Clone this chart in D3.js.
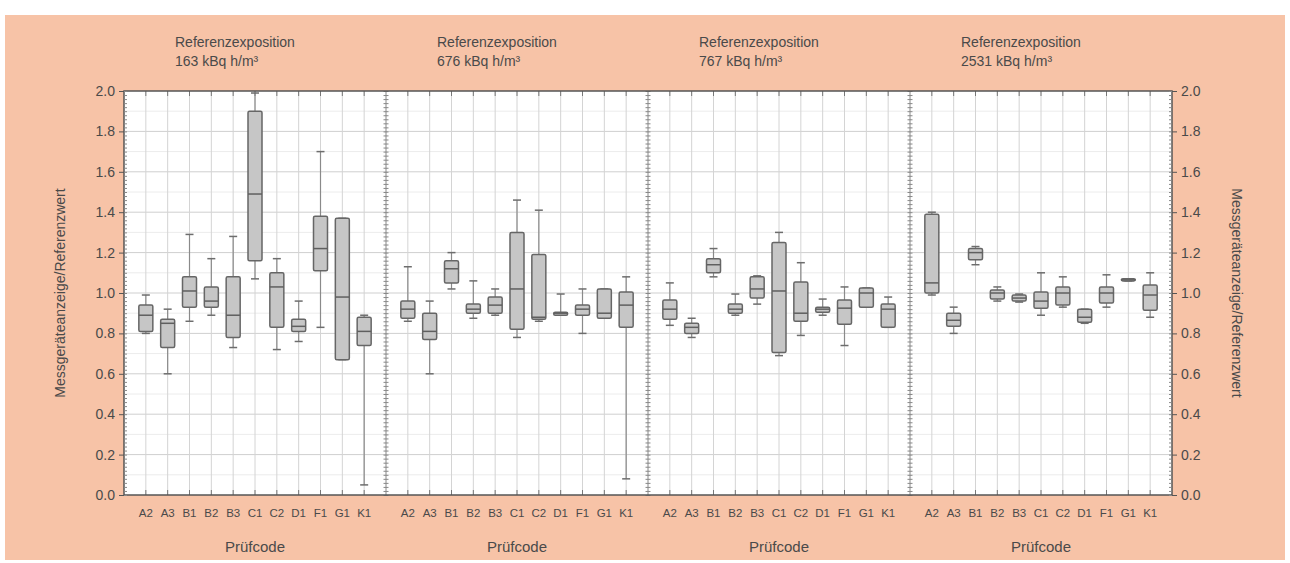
<!DOCTYPE html>
<html>
<head>
<meta charset="utf-8">
<script src="https://cdn.jsdelivr.net/npm/d3@7"></script>
<style>
  body { margin: 0; background: #fff; }
  svg { display: block; font-family: "Liberation Sans", Arial, sans-serif; }
</style>
</head>
<body>
<svg id="chart" width="1290" height="563"></svg>
<script>
// codes on the x axis (same in every panel)
const categories = ["A2", "A3", "B1", "B2", "B3", "C1", "C2", "D1", "F1", "G1", "K1"];
const exposures = ["163 kBq h/m³", "676 kBq h/m³", "767 kBq h/m³", "2531 kBq h/m³"];
const yTicks = [0, 0.2, 0.4, 0.6, 0.8, 1.0, 1.2, 1.4, 1.6, 1.8, 2.0];

// [min, q1, median, q3, max] per code
const boxes163 = [
    [0.80, 0.81, 0.89, 0.94, 0.99], [0.60, 0.73, 0.85, 0.87, 0.92], [0.86, 0.93, 1.01, 1.08, 1.29],
    [0.89, 0.93, 0.96, 1.03, 1.17], [0.73, 0.78, 0.89, 1.08, 1.28], [1.07, 1.16, 1.49, 1.90, 1.99],
    [0.72, 0.83, 1.03, 1.10, 1.17], [0.76, 0.81, 0.835, 0.87, 0.96], [0.83, 1.11, 1.22, 1.38, 1.70],
    [0.67, 0.67, 0.98, 1.37, 1.37], [0.05, 0.74, 0.81, 0.88, 0.89]
];
const boxes676 = [
    [0.86, 0.875, 0.92, 0.96, 1.13], [0.60, 0.77, 0.81, 0.90, 0.96], [1.02, 1.05, 1.12, 1.16, 1.20],
    [0.875, 0.90, 0.92, 0.945, 1.06], [0.89, 0.90, 0.94, 0.98, 1.02], [0.78, 0.82, 1.02, 1.30, 1.46],
    [0.86, 0.87, 0.88, 1.19, 1.41], [0.89, 0.89, 0.90, 0.905, 0.995], [0.80, 0.89, 0.92, 0.94, 1.02],
    [0.875, 0.875, 0.90, 1.02, 1.02], [0.08, 0.83, 0.94, 1.005, 1.08]
];
const boxes767 = [
    [0.84, 0.87, 0.92, 0.965, 1.05], [0.78, 0.80, 0.83, 0.85, 0.875], [1.08, 1.10, 1.14, 1.17, 1.22],
    [0.89, 0.90, 0.92, 0.945, 0.995], [0.945, 0.975, 1.02, 1.08, 1.085], [0.69, 0.705, 1.01, 1.25, 1.30],
    [0.79, 0.86, 0.90, 1.055, 1.15], [0.89, 0.905, 0.92, 0.93, 0.97], [0.74, 0.845, 0.925, 0.965, 1.03],
    [0.93, 0.93, 1.00, 1.025, 1.025], [0.83, 0.83, 0.92, 0.945, 0.98]
];
const boxes2531 = [
    [0.99, 1.00, 1.05, 1.39, 1.40], [0.80, 0.835, 0.865, 0.90, 0.93], [1.14, 1.165, 1.20, 1.22, 1.23],
    [0.96, 0.97, 1.00, 1.015, 1.03], [0.955, 0.96, 0.975, 0.99, 0.995], [0.89, 0.925, 0.96, 1.005, 1.10],
    [0.93, 0.94, 1.00, 1.03, 1.08], [0.85, 0.855, 0.88, 0.92, 0.92], [0.93, 0.95, 1.00, 1.03, 1.09],
    [1.06, 1.06, 1.065, 1.07, 1.07], [0.88, 0.915, 0.99, 1.04, 1.10]
];
const panels = [boxes163, boxes676, boxes767, boxes2531];

const svg = d3.select("#chart");
const plotLeft = 124, plotRight = 1172, plotTop = 91, plotBottom = 495;
const panelWidth = (plotRight - plotLeft) / panels.length;
const textColor = "#4a4a4a";

svg.append("rect")
    .attr("x", 5).attr("y", 15).attr("width", 1280).attr("height", 545)
    .attr("fill", "#f7c3a7");

svg.append("rect")
    .attr("x", plotLeft).attr("y", plotTop)
    .attr("width", plotRight - plotLeft).attr("height", plotBottom - plotTop)
    .attr("fill", "#fff");

const y = d3.scaleLinear().domain([0, 2]).range([plotBottom, plotTop]);

// horizontal grid
const minorY = d3.range(0.1, 2, 0.2);
svg.append("g")
    .selectAll("line")
    .data(minorY)
    .join("line")
    .attr("x1", plotLeft).attr("x2", plotRight)
    .attr("y1", d => y(d)).attr("y2", d => y(d))
    .attr("stroke", "#ececec");
svg.append("g")
    .selectAll("line")
    .data(yTicks.slice(1, -1))
    .join("line")
    .attr("x1", plotLeft).attr("x2", plotRight)
    .attr("y1", d => y(d)).attr("y2", d => y(d))
    .attr("stroke", "#cfcfcf");

panels.forEach(function (stats, p) {
    const left = plotLeft + p * panelWidth;
    const x = d3.scalePoint().domain(categories).range([left, left + panelWidth]).padding(1);
    const g = svg.append("g");

    // vertical grid
    g.selectAll("line.vgrid")
        .data(categories)
        .join("line")
        .attr("class", "vgrid")
        .attr("x1", d => x(d)).attr("x2", d => x(d))
        .attr("y1", plotTop).attr("y2", plotBottom)
        .attr("stroke", "#d4d4d4");

    // small ticks on top and bottom frame
    g.selectAll("line.ttick")
        .data(categories)
        .join("line")
        .attr("class", "ttick")
        .attr("x1", d => x(d)).attr("x2", d => x(d))
        .attr("y1", plotTop).attr("y2", plotTop + 5)
        .attr("stroke", "#777");
    g.selectAll("line.btick")
        .data(categories)
        .join("line")
        .attr("class", "btick")
        .attr("x1", d => x(d)).attr("x2", d => x(d))
        .attr("y1", plotBottom).attr("y2", plotBottom - 5)
        .attr("stroke", "#777");

    const bw = 14, cap = 8;
    const box = g.selectAll("g.box")
        .data(stats)
        .join("g")
        .attr("class", "box")
        .attr("transform", (d, i) => `translate(${x(categories[i])},0)`);

    box.append("line")
        .attr("y1", d => y(d[0])).attr("y2", d => y(d[4]))
        .attr("stroke", "#8a8a8a").attr("stroke-width", 1.2);
    box.append("line")
        .attr("x1", -cap / 2).attr("x2", cap / 2)
        .attr("y1", d => y(d[4])).attr("y2", d => y(d[4]))
        .attr("stroke", "#6d6d6d").attr("stroke-width", 1.5);
    box.append("line")
        .attr("x1", -cap / 2).attr("x2", cap / 2)
        .attr("y1", d => y(d[0])).attr("y2", d => y(d[0]))
        .attr("stroke", "#6d6d6d").attr("stroke-width", 1.5);
    box.append("rect")
        .attr("x", -bw / 2).attr("width", bw)
        .attr("y", d => y(d[3]))
        .attr("height", d => Math.max(2, y(d[1]) - y(d[3])))
        .attr("rx", 1.5)
        .attr("fill", "#c6c6c6").attr("stroke", "#666").attr("stroke-width", 1.5);
    box.append("line")
        .attr("x1", -bw / 2).attr("x2", bw / 2)
        .attr("y1", d => y(d[2])).attr("y2", d => y(d[2]))
        .attr("stroke", "#5f5f5f").attr("stroke-width", 1.5);

    // x labels
    g.selectAll("text.xl")
        .data(categories)
        .join("text")
        .attr("class", "xl")
        .attr("x", d => x(d)).attr("y", 517)
        .attr("text-anchor", "middle")
        .attr("font-size", 11.5)
        .attr("fill", textColor)
        .text(d => d);

    g.append("text")
        .attr("x", left + panelWidth / 2).attr("y", 552)
        .attr("text-anchor", "middle")
        .attr("font-size", 15)
        .attr("fill", textColor)
        .text("Prüfcode");

    const title = g.append("text")
        .attr("x", left + 51).attr("y", 47)
        .attr("font-size", 14)
        .attr("fill", textColor);
    title.append("tspan").attr("x", left + 51).text("Referenzexposition");
    title.append("tspan").attr("x", left + 51).attr("dy", 19).text(exposures[p]);

    // panel dividers drawn as inner axes
    if (p > 0) {
        const ax = g.append("g").attr("transform", `translate(${left},0)`);
        ax.append("line")
            .attr("y1", plotTop).attr("y2", plotBottom)
            .attr("stroke", "#6a6a6a").attr("stroke-width", 1);
        ax.call(d3.axisRight(y).ticks(100).tickSize(2.5).tickFormat(""))
            .call(a => a.select(".domain").remove())
            .selectAll("line").attr("stroke", "#888");
        ax.append("g").call(d3.axisLeft(y).ticks(100).tickSize(2.5).tickFormat(""))
            .call(a => a.select(".domain").remove())
            .selectAll("line").attr("stroke", "#888");
    }
});

// frame
svg.append("rect")
    .attr("x", plotLeft).attr("y", plotTop)
    .attr("width", plotRight - plotLeft).attr("height", plotBottom - plotTop)
    .attr("fill", "none").attr("stroke", "#555").attr("stroke-width", 1.5);

// left axis
const leftAxis = svg.append("g").attr("transform", `translate(${plotLeft},0)`);
leftAxis.call(d3.axisRight(y).ticks(100).tickSize(3).tickFormat(""))
    .call(a => a.select(".domain").remove())
    .selectAll("line").attr("stroke", "#888");
leftAxis.append("g")
    .call(d3.axisLeft(y).tickValues(yTicks).tickSize(5).tickFormat(d3.format(".1f")))
    .call(a => a.select(".domain").remove())
    .call(a => a.selectAll("line").attr("stroke", "#555"))
    .call(a => a.selectAll("text").attr("font-size", 14).attr("fill", textColor)
        .attr("font-family", "Liberation Sans, Arial, sans-serif").attr("x", -9));

// right axis
const rightAxis = svg.append("g").attr("transform", `translate(${plotRight},0)`);
rightAxis.call(d3.axisLeft(y).ticks(100).tickSize(3).tickFormat(""))
    .call(a => a.select(".domain").remove())
    .selectAll("line").attr("stroke", "#888");
rightAxis.append("g")
    .call(d3.axisRight(y).tickValues(yTicks).tickSize(5).tickFormat(d3.format(".1f")))
    .call(a => a.select(".domain").remove())
    .call(a => a.selectAll("line").attr("stroke", "#555"))
    .call(a => a.selectAll("text").attr("font-size", 14).attr("fill", textColor)
        .attr("font-family", "Liberation Sans, Arial, sans-serif").attr("x", 9));

svg.append("text")
    .attr("transform", `translate(65,${(plotTop + plotBottom) / 2}) rotate(-90)`)
    .attr("text-anchor", "middle")
    .attr("font-size", 14)
    .attr("fill", textColor)
    .text("Messgeräteanzeige/Referenzwert");

svg.append("text")
    .attr("transform", `translate(1232,${(plotTop + plotBottom) / 2}) rotate(90)`)
    .attr("text-anchor", "middle")
    .attr("font-size", 14)
    .attr("fill", textColor)
    .text("Messgeräteanzeige/Referenzwert");
</script>
</body>
</html>
